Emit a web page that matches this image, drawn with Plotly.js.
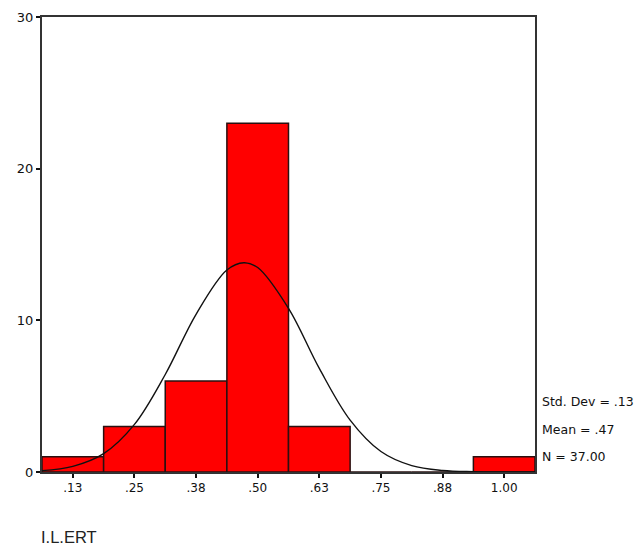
<!DOCTYPE html>
<html>
<head>
<meta charset="utf-8">
<script src="https://cdn.plot.ly/plotly-3.0.1.min.js"></script>
<style>html,body{margin:0;padding:0;background:#fff;}#chart{width:643px;height:550px;}</style>
</head>
<body>
<div id="chart"></div>
<script>
// Histogram bins (bin centers, width 0.125) and counts
const binCenters = [0.125, 0.25, 0.375, 0.5, 0.625, 0.75, 0.875, 1.0];
const counts = [1, 3, 6, 23, 3, 0, 0, 1];
const tickLabels = [".13", ".25", ".38", ".50", ".63", ".75", ".88", "1.00"];

// Normal curve
const curveX = [0.0625, 0.125, 0.1875, 0.25, 0.3125, 0.375, 0.4375, 0.472, 0.5, 0.5625, 0.625, 0.6875, 0.75, 0.8125, 0.875, 0.9375, 1.0, 1.0625];
const curveY = [0.09, 0.37, 1.21, 3.14, 6.43, 10.40, 13.32, 13.8, 13.48, 10.79, 6.83, 3.42, 1.35, 0.42, 0.10, 0.02, 0.0, 0.0];

const statLines = ["Std. Dev = .13", "Mean = .47", "N = 37.00"];
const xTitle = "I.L.ERT";

const bars = {
  type: 'bar',
  x: binCenters,
  y: counts,
  width: 0.125,
  marker: {color: '#ff0000', line: {color: '#2a1010', width: 1.5}},
  hoverinfo: 'x+y'
};
const curve = {
  type: 'scatter',
  mode: 'lines',
  x: curveX,
  y: curveY,
  line: {color: '#111', width: 1.4, shape: 'spline'},
  hoverinfo: 'skip'
};

const statY = [0.154, 0.0945, 0.033];
const annotations = statLines.map((t, i) => ({
  text: t, xref: 'paper', yref: 'paper', x: 1.011, y: statY[i],
  xanchor: 'left', yanchor: 'middle', showarrow: false,
  font: {family: 'DejaVu Sans, sans-serif', size: 12.5, color: '#111'}
}));
annotations.push({
  text: xTitle, xref: 'paper', yref: 'paper', x: -0.006, y: -0.143,
  xanchor: 'left', yanchor: 'middle', showarrow: false,
  font: {family: 'Liberation Sans, Arial, sans-serif', size: 16.5, color: '#222'}
});

const layout = {
  width: 643, height: 550,
  margin: {l: 42, r: 107.5, t: 17, b: 78},
  paper_bgcolor: '#fff', plot_bgcolor: '#fff',
  showlegend: false,
  bargap: 0,
  xaxis: {
    range: [0.0625, 1.0625],
    tickvals: binCenters, ticktext: tickLabels,
    ticks: 'outside', ticklen: 4, tickwidth: 2, tickcolor: '#111',
    showgrid: false, zeroline: false,
    showline: true, linecolor: '#333', linewidth: 2, mirror: true,
    tickfont: {family: 'DejaVu Sans, sans-serif', size: 12, color: '#111'}
  },
  yaxis: {
    range: [0, 30],
    tickvals: [0, 10, 20, 30], ticktext: ["0", "10", "20", "30"],
    ticks: 'outside', ticklen: 4, tickwidth: 2, tickcolor: '#111',
    showgrid: false, zeroline: false,
    showline: true, linecolor: '#333', linewidth: 2, mirror: true,
    tickfont: {family: 'DejaVu Sans, sans-serif', size: 13, color: '#111'}
  },
  annotations: annotations
};

Plotly.newPlot('chart', [bars, curve], layout, {displayModeBar: false, staticPlot: true});
</script>
</body>
</html>
